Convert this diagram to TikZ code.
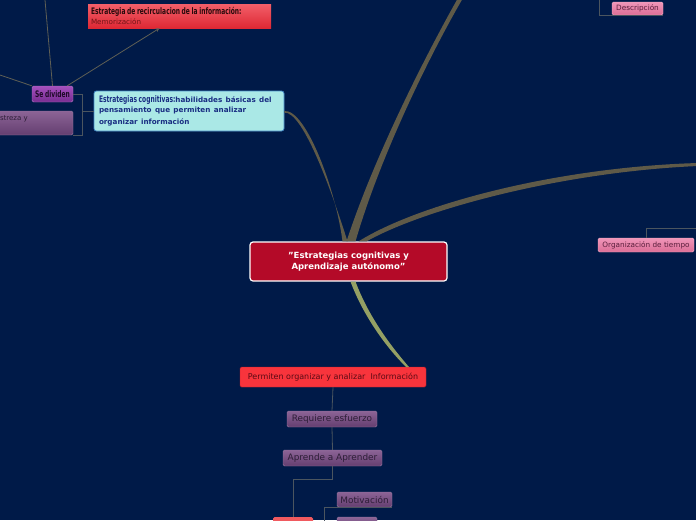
\documentclass[tikz,border=0pt]{standalone}
\usepackage{fontspec}
\setmainfont{DejaVu Sans}
\newfontfamily\narrowfont{DejaVu Sans}[FakeStretch=0.66]
\usetikzlibrary{calc}
\definecolor{bgblue}{RGB}{0,26,72}
\definecolor{mainred}{RGB}{180,10,40}
\definecolor{permred}{RGB}{248,52,60}
\definecolor{lightred}{RGB}{240,90,95}
\definecolor{branchtan}{RGB}{95,90,72}
\definecolor{branchgreen}{RGB}{148,160,100}
\definecolor{linkgrey}{RGB}{75,85,95}
\definecolor{cogfill}{RGB}{170,232,230}
\definecolor{cogborder}{RGB}{70,140,200}
\definecolor{cogtext}{RGB}{25,45,130}
\newcommand\narrowtitle{\fontsize{9}{10}\selectfont\narrowfont\bfseries\spaceskip=1.6pt plus 0.5pt\relax}
\begin{document}
\begin{tikzpicture}[x=1pt, y=-1pt, >=stealth,
  box/.style={inner sep=0pt, align=center, rounded corners=1.5pt},
  mainnode/.style={box, fill=mainred, draw=white, line width=1.2pt, rounded corners=3pt,
    minimum width=197, minimum height=39, text=white, font=\fontsize{8.5}{11.5}\selectfont\bfseries},
  permnode/.style={box, fill=permred, draw={rgb,255:red,190;green,30;blue,40}, minimum width=186,
    minimum height=20, text={rgb,255:red,90;green,10;blue,20}, font=\fontsize{8}{9}\selectfont},
  purplenode/.style={box, top color={rgb,255:red,140;green,100;blue,150}, bottom color={rgb,255:red,100;green,62;blue,112},
    draw={rgb,255:red,150;green,120;blue,160}, minimum height=16,
    text={rgb,255:red,45;green,30;blue,55}, font=\fontsize{8.9}{10}\selectfont},
  pinknode/.style={box, top color={rgb,255:red,240;green,150;blue,185}, bottom color={rgb,255:red,220;green,110;blue,150},
    draw={rgb,255:red,245;green,175;blue,200}, minimum height=13,
    text={rgb,255:red,90;green,30;blue,60}, font=\fontsize{7.3}{8}\selectfont},
  recircnode/.style={box, top color={rgb,255:red,242;green,95;blue,105}, bottom color={rgb,255:red,222;green,40;blue,52},
    align=left, text width=177, inner xsep=3, minimum height=24, rounded corners=0pt,
    text={rgb,255:red,40;green,10;blue,12}},
  cognode/.style={box, fill=cogfill, draw=cogborder, line width=0.8pt, rounded corners=2.5pt,
    align=left, text width=180, inner xsep=5, minimum height=40, text=cogtext},
  sednode/.style={box, top color={rgb,255:red,165;green,80;blue,190}, bottom color={rgb,255:red,120;green,45;blue,145},
    draw={rgb,255:red,175;green,120;blue,195}, minimum width=41, minimum height=16,
    text={rgb,255:red,30;green,10;blue,40}},
  branch/.style={fill=branchtan},
  link/.style={draw=linkgrey, line width=0.8pt}]
\useasboundingbox (0,0) rectangle (696,520);
\clip (0,0) rectangle (696,520);
\fill[bgblue] (0,0) rectangle (696,520);
% nodes
\node[mainnode] (main) at (348.5,261.5) {"Estrategias cognitivas y\\ Aprendizaje autónomo"};
\node[permnode] (perm) at (333,377) {Permiten organizar y analizar\ \ Información};
\node[purplenode, minimum width=90] (req) at (332,419) {Requiere esfuerzo};
\node[purplenode, minimum width=99] (apr) at (332.5,458) {Aprende a Aprender};
\node[purplenode, minimum width=55, minimum height=15] (mot) at (364.5,499.5) {Motivación};
\node[purplenode, minimum width=40] (next) at (357,525) {};
\node[box, fill=lightred, minimum width=40, minimum height=16] (bred) at (293,525) {};
\node[pinknode, minimum width=51] (desc) at (637.5,8.5) {Descripción};
\node[pinknode, minimum width=96, minimum height=14] (org) at (646,245) {Organización de tiempo};
\node[recircnode] (recirc) at (179.5,16)
  {{\narrowtitle Estrategia de recirculacion de la información:}\\[-2.5pt]
   {\fontsize{7.2}{8}\selectfont\color[RGB]{115,20,22}Memorización}};
\node[cognode] (cog) at (189,111)
  {\fontsize{7.2}{10}\selectfont\bfseries{\narrowtitle Estrategias cognitivas:}habilidades básicas del\\
   pensamiento que permiten analizar\\ organizar información};
\node[sednode, font=\narrowtitle] (sed) at (52.5,94) {Se dividen};
\node[purplenode, minimum width=75, minimum height=24, align=left, text width=71, inner xsep=2,
  text depth=10pt, font=\fontsize{7}{8}\selectfont] (destreza) at (35.5,123) {streza y};
% branches
\fill[branch] ($(main.north)+(-2,0)$) .. controls (373,160) and (423,60) .. (458,-2)
  -- (463,-2) .. controls (427,60) and (379,160) .. ($(main.north)+(7,0)$) -- cycle;
\fill[branch] ($(main.north)+(-6,0)$) .. controls (336,190) and (306,109) .. (cog.east)
  -- ($(cog.east)+(0,1.6)$) .. controls (303,111) and (332,192) .. ($(main.north)+(-1,0)$) -- cycle;
\fill[branch] ($(main.north)+(10,0)$) .. controls (420,203) and (560,167) .. (698,163)
  -- (698,166) .. controls (560,172) and (422,210) .. ($(main.north)+(18,0)$) -- cycle;
\fill[branchgreen] ($(main.south)+(2,0)$) .. controls (363,315) and (385,346) .. (406,367)
  -- (409,367) .. controls (389,344) and (368,315) .. ($(main.south)+(7,0)$) -- cycle;
% links
\draw[link] (perm.south) -- (req.north);
\draw[link] (req.south) -- (apr.north);
\draw[link] (apr.south) -- ++(0,13) -| (bred.north);
\draw[link] (bred.east) -- ++(11,0) |- (mot.south east);
\draw[link] (desc.south east) -- ($(desc.south west)+(-12,0)$) -- ++(0,-20);
\draw[link] (org.north) -- ++(0,-9) -- ++(60,0);
\draw[link] (sed.east) -- ++(9,0) |- (destreza.south east);
\draw[link] (cog.west) -- ++(-12,0);
\draw[link, draw={rgb,255:red,95;green,95;blue,85}] (sed.north) -- (45,0);
\draw[link, draw={rgb,255:red,95;green,95;blue,85}] (sed.north west) -- (0,75);
\draw[link, draw={rgb,255:red,95;green,95;blue,85}, ->] ($(sed.north east)+(-6,0)$) -- ($(recirc.south)+(-20,0)$);
\end{tikzpicture}
\end{document}
